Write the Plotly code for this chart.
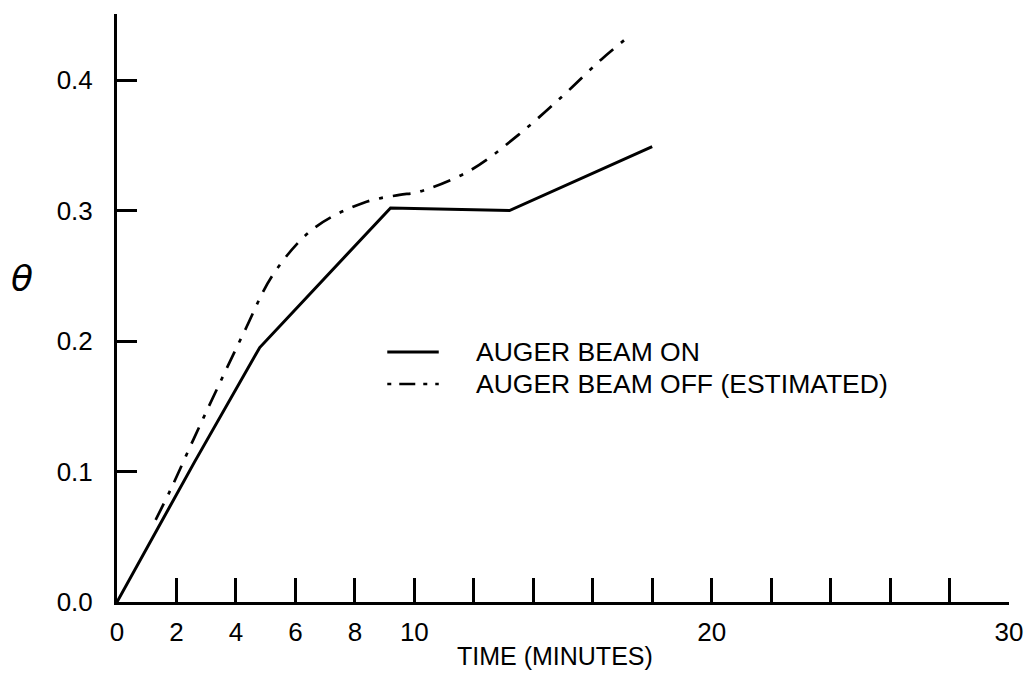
import plotly.graph_objects as go

# Data
on_x = [0, 2.6, 4.8, 9.2, 13.2, 18.0]
on_y = [0, 0.107, 0.195, 0.302, 0.300, 0.349]

off_x = [1.3, 1.8, 2.6, 3.4, 4.3, 5.25, 6.6, 8.3, 9.5, 10.1, 11.9, 13.5, 15.0, 16.3, 17.3]
off_y = [0.063, 0.086, 0.126, 0.165, 0.208, 0.251, 0.286, 0.306, 0.312, 0.314,
         0.331, 0.358, 0.388, 0.416, 0.435]

x_tickvals = list(range(0, 31, 2))
x_ticktext = ["0", "2", "4", "6", "8", "10", "", "", "", "", "20", "", "", "", "", "30"]
y_tickvals = [0.0, 0.1, 0.2, 0.3, 0.4]
y_ticktext = ["0.0", "0.1", "0.2", "0.3", "0.4"]

legend_labels = ["AUGER BEAM ON", "AUGER BEAM OFF (ESTIMATED)"]

FONT = "Liberation Sans, Arial, sans-serif"

fig = go.Figure()
fig.add_trace(go.Scatter(x=on_x, y=on_y, mode="lines", name=legend_labels[0],
                         line=dict(color="black", width=3)))
fig.add_trace(go.Scatter(x=off_x, y=off_y, mode="lines", name=legend_labels[1],
                         line=dict(color="black", width=2.7, shape="spline",
                                   dash="18px,10px,4px,10px")))

fig.update_layout(
    width=1035, height=673,
    margin=dict(l=117, r=17, t=14, b=71),
    paper_bgcolor="white", plot_bgcolor="white",
    showlegend=False,
    font=dict(family=FONT, color="black", size=26),
)
fig.update_xaxes(range=[0, 30], showgrid=False, zeroline=False,
                 showline=True, linecolor="black", linewidth=3,
                 ticks="inside", ticklen=24, tickwidth=3, tickcolor="black",
                 tickvals=x_tickvals, ticktext=x_ticktext,
                 tickfont=dict(size=26), ticklabelstandoff=5)
fig.update_yaxes(range=[0, 0.4506], showgrid=False, zeroline=False,
                 showline=True, linecolor="black", linewidth=3,
                 ticks="inside", ticklen=20, tickwidth=3, tickcolor="black",
                 tickvals=y_tickvals, ticktext=y_ticktext,
                 tickfont=dict(size=26), ticklabelstandoff=16)

# axis titles
fig.add_annotation(text="TIME (MINUTES)", xref="paper", yref="paper",
                   x=0.491, y=-0.091, xanchor="center", yanchor="middle",
                   showarrow=False, font=dict(size=25))
fig.add_annotation(text="<i>θ</i>", xref="paper", yref="paper",
                   x=-0.107, y=0.55, xanchor="center", yanchor="middle",
                   showarrow=False, font=dict(size=36, family="DejaVu Sans"))

# legend (manual)
def px_x(p):
    return (p - 117) / (1035 - 117 - 17)

def px_y(p):
    return (673 - 71 - p) / (673 - 71 - 14)

leg_rows = [352, 384]
leg_dash = ["solid", "4px,8px,16px,8px,4px,8px"]
leg_w = [3, 2.7]
for i, lbl in enumerate(legend_labels):
    fig.add_shape(type="line", xref="paper", yref="paper",
                  x0=px_x(390), x1=px_x(442), y0=px_y(leg_rows[i]), y1=px_y(leg_rows[i]),
                  line=dict(color="black", width=leg_w[i], dash=leg_dash[i]))
    fig.add_annotation(text=lbl, xref="paper", yref="paper",
                       x=px_x(478), y=px_y(leg_rows[i]), xanchor="left", yanchor="middle",
                       showarrow=False, font=dict(size=26.5))

fig.write_html("out.html")
